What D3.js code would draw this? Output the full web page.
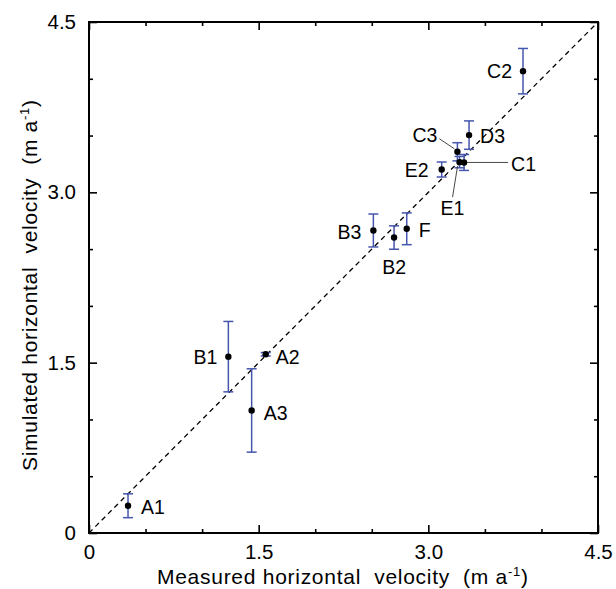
<!DOCTYPE html>
<html>
<head>
<meta charset="utf-8">
<script src="https://cdn.jsdelivr.net/npm/d3@7"></script>
<style>
  html, body { margin: 0; padding: 0; background: #fff; }
  svg { display: block; font-family: "Liberation Sans", Arial, sans-serif; }
  text { white-space: pre; }
</style>
</head>
<body>
<svg id="chart" width="616" height="589"></svg>
<script>
// ---- data ----
const sites     = ["A1", "B1", "A2", "A3", "B3", "B2", "F", "C3", "D3", "E2", "C1", "E1", "C2"];
const measured  = [0.345, 1.232, 1.562, 1.438, 2.514, 2.697, 2.809, 3.257, 3.360, 3.118, 3.316, 3.276, 3.837];
const simulated = [0.240, 1.553, 1.574, 1.079, 2.664, 2.602, 2.679, 3.357, 3.504, 3.201, 3.263, 3.266, 4.067];
const simError  = [0.105, 0.310, 0.015, 0.367, 0.145, 0.103, 0.140, 0.080, 0.125, 0.066, 0.070, 0.050, 0.200];
const majorTicks = [0, 1.5, 3.0, 4.5];
const majorTickLabels = ["0", "1.5", "3.0", "4.5"];
const minorTicks = [0.5, 1.0, 2.0, 2.5, 3.5, 4.0];

// ---- label layout (pixel offsets from each point) ----
const labelLayout = {
  A1: {dx: 13, dy: 1, anchor: "start"},
  B1: {dx: -11, dy: 0, anchor: "end"},
  A2: {dx: 10, dy: 3, anchor: "start"},
  A3: {dx: 12, dy: 3, anchor: "start"},
  B3: {dx: -12, dy: 1, anchor: "end"},
  B2: {dx: 0, dy: 29, anchor: "middle"},
  F:  {dx: 12, dy: 1, anchor: "start"},
  C3: {dx: -20, dy: -17, anchor: "end", leader: [[-3, -3], [-18, -13]]},
  D3: {dx: 11, dy: 1, anchor: "start"},
  E2: {dx: -13, dy: 0, anchor: "end"},
  C1: {dx: 47, dy: 2, anchor: "start", leader: [[3, 0], [44, 0]]},
  E1: {dx: -7, dy: 46, anchor: "middle", leader: [[-2, 4], [-7, 35]]},
  C2: {dx: -11, dy: 0, anchor: "end"}
};

const svg = d3.select("#chart");
const pLeft = 89, pRight = 598, pTop = 22, pBottom = 533;
const x = d3.scaleLinear().domain([0, 4.5]).range([pLeft, pRight]);
const y = d3.scaleLinear().domain([0, 4.5]).range([pBottom, pTop]);

const fmt = d => majorTickLabels[majorTicks.indexOf(d)];

function addAxis(axisGen, transform, values, size, labels, pad) {
  const g = svg.append("g").attr("transform", transform)
    .call(axisGen.tickValues(values).tickSize(-size).tickPadding(labels ? pad : 0)
      .tickFormat(labels ? fmt : () => ""));
  g.select(".domain").remove();
  g.selectAll(".tick line").attr("stroke", "#000").attr("stroke-width", 1.6);
  g.selectAll(".tick text").attr("font-size", 20.5).attr("fill", "#000")
    .attr("font-family", "Liberation Sans, Arial, sans-serif");
  return g;
}
addAxis(d3.axisBottom(x), `translate(0,${pBottom})`, majorTicks, 8, true, 11);
addAxis(d3.axisBottom(x), `translate(0,${pBottom})`, minorTicks, 4, false);
addAxis(d3.axisTop(x), `translate(0,${pTop})`, majorTicks, 8, false);
addAxis(d3.axisTop(x), `translate(0,${pTop})`, minorTicks, 4, false);
addAxis(d3.axisLeft(y), `translate(${pLeft},0)`, majorTicks, 8, true, 13);
addAxis(d3.axisLeft(y), `translate(${pLeft},0)`, minorTicks, 4, false);
addAxis(d3.axisRight(y), `translate(${pRight},0)`, majorTicks, 8, false);
addAxis(d3.axisRight(y), `translate(${pRight},0)`, minorTicks, 4, false);

// frame
svg.append("rect").attr("x", pLeft).attr("y", pTop)
  .attr("width", pRight - pLeft).attr("height", pBottom - pTop)
  .attr("fill", "none").attr("stroke", "#000").attr("stroke-width", 2);

// 1:1 line
svg.append("line")
  .attr("x1", x(0)).attr("y1", y(0)).attr("x2", x(4.5)).attr("y2", y(4.5))
  .attr("stroke", "#000").attr("stroke-width", 1.3).attr("stroke-dasharray", "5,4");

const pts = sites.map((s, i) => ({s, mx: measured[i], sy: simulated[i], e: simError[i]}));

// error bars
const blue = "#4656ad";
const eb = svg.append("g").attr("stroke", blue).attr("stroke-width", 1.5);
pts.forEach(p => {
  const cx = x(p.mx);
  eb.append("line").attr("x1", cx).attr("x2", cx).attr("y1", y(p.sy - p.e)).attr("y2", y(p.sy + p.e));
  [p.sy - p.e, p.sy + p.e].forEach(v => {
    eb.append("line").attr("x1", cx - 5).attr("x2", cx + 5).attr("y1", y(v)).attr("y2", y(v));
  });
});

// points
svg.append("g").selectAll("circle").data(pts).join("circle")
  .attr("cx", p => x(p.mx)).attr("cy", p => y(p.sy)).attr("r", 3.2).attr("fill", "#000");

// leaders and labels
pts.forEach(p => {
  const L = labelLayout[p.s];
  const cx = x(p.mx), cy = y(p.sy);
  if (L.leader) {
    svg.append("line")
      .attr("x1", cx + L.leader[0][0]).attr("y1", cy + L.leader[0][1])
      .attr("x2", cx + L.leader[1][0]).attr("y2", cy + L.leader[1][1])
      .attr("stroke", "#333").attr("stroke-width", 0.9);
  }
  svg.append("text").attr("x", cx + L.dx).attr("y", cy + L.dy)
    .attr("dy", "0.36em").attr("text-anchor", L.anchor)
    .attr("font-size", 19.5).attr("fill", "#000").text(p.s);
});

// axis titles
function title(g) {
  g.attr("font-size", 21).attr("fill", "#000")
   .attr("textLength", 371).attr("lengthAdjust", "spacing");
}
const xt = svg.append("text").attr("x", 157).attr("y", 584)
  .attr("text-anchor", "start").call(title);
xt.append("tspan").text("Measured horizontal  velocity  (m a");
xt.append("tspan").attr("font-size", 13).attr("dy", -8).text("-1");
xt.append("tspan").attr("dy", 8).text(")");

const yt = svg.append("text").attr("transform", `translate(37,471) rotate(-90)`)
  .attr("text-anchor", "start").call(title);
yt.append("tspan").text("Simulated horizontal  velocity  (m a");
yt.append("tspan").attr("font-size", 13).attr("dy", -8).text("-1");
yt.append("tspan").attr("dy", 8).text(")");
</script>
</body>
</html>
